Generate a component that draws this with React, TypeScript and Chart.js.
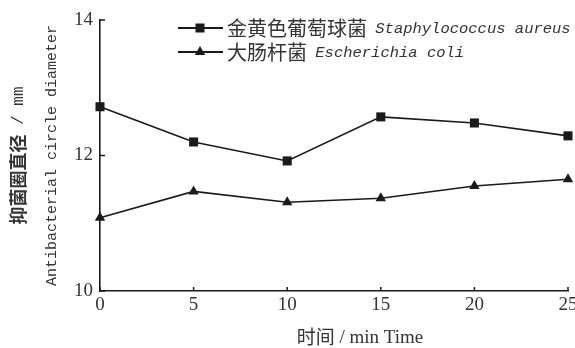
import React, { useEffect, useRef } from "react";
import { Chart, registerables } from "chart.js";

Chart.register(...registerables);

const times = [0, 5, 10, 15, 20, 25];
const staphValues = [12.72, 12.2, 11.92, 12.57, 12.48, 12.29];
const ecoliValues = [11.08, 11.47, 11.31, 11.37, 11.55, 11.65];
const seriesZh = ["金黄色葡萄球菌", "大肠杆菌"];
const seriesEn = ["Staphylococcus aureus", "Escherichia coli"];
const seriesMarkers = ["rect", "triangle"];
const yTicks = [10, 12, 14];
const xTicks = [0, 5, 10, 15, 20, 25];
const yTitleZh = "抑菌圈直径";
const yTitleUnit = " / mm";
const yTitleEn = "Antibacterial circle diameter";
const xTitleZh = "时间";
const xTitleRest = " / min Time";

const INK = "#1a1a1a";
const TEXT = "#333333";
const CJK = "'Noto Sans CJK SC'";
const MONO = "'Liberation Mono', 'DejaVu Sans Mono', monospace";
const SERIF = "'Liberation Serif', 'DejaVu Serif', serif";

function drawMarker(ctx: CanvasRenderingContext2D, style: string, x: number, y: number) {
  ctx.fillStyle = INK;
  ctx.beginPath();
  if (style === "rect") {
    ctx.rect(x - 4.5, y - 4.5, 9, 9);
  } else {
    const r = 6;
    ctx.moveTo(x, y - r);
    ctx.lineTo(x + r * 0.866, y + r * 0.5);
    ctx.lineTo(x - r * 0.866, y + r * 0.5);
    ctx.closePath();
  }
  ctx.fill();
}

const decorPlugin = {
  id: "decor",
  afterDraw(chart: any) {
    const ctx: CanvasRenderingContext2D = chart.ctx;
    const xs = chart.scales.x;
    const ys = chart.scales.y;
    ctx.save();
    // inward ticks
    ctx.strokeStyle = INK;
    ctx.lineWidth = 1.5;
    yTicks.forEach((v) => {
      const py = ys.getPixelForValue(v);
      ctx.beginPath();
      ctx.moveTo(xs.left, py);
      ctx.lineTo(xs.left + 5, py);
      ctx.stroke();
    });
    xTicks.forEach((v) => {
      const px = xs.getPixelForValue(v);
      ctx.beginPath();
      ctx.moveTo(px, ys.bottom);
      ctx.lineTo(px, ys.bottom - 4);
      ctx.stroke();
    });

    // legend
    const rowsY = [28, 52];
    chart.data.datasets.forEach((ds: any, i: number) => {
      const y = rowsY[i];
      ctx.strokeStyle = INK;
      ctx.lineWidth = 1.8;
      ctx.beginPath();
      ctx.moveTo(178, y);
      ctx.lineTo(223, y);
      ctx.stroke();
      drawMarker(ctx, seriesMarkers[i], 200, y);
      ctx.fillStyle = TEXT;
      ctx.textBaseline = "middle";
      ctx.textAlign = "left";
      ctx.font = `20px ${CJK}`;
      ctx.fillText(seriesZh[i], 227, y);
      const w = ctx.measureText(seriesZh[i]).width;
      ctx.font = `italic 15.5px ${MONO}`;
      ctx.fillText(" " + seriesEn[i], 227 + w - 1, y + 1);
    });

    // y titles
    const cy = (ys.top + ys.bottom) / 2;
    ctx.save();
    ctx.translate(18, cy);
    ctx.rotate(-Math.PI / 2);
    ctx.fillStyle = TEXT;
    ctx.textBaseline = "middle";
    ctx.font = `18px ${CJK}`;
    const wz = ctx.measureText(yTitleZh).width;
    ctx.font = `16px ${MONO}`;
    const wu = ctx.measureText(yTitleUnit).width;
    const sx = -(wz + wu) / 2;
    ctx.textAlign = "left";
    ctx.font = `bold 18px ${CJK}`;
    ctx.fillText(yTitleZh, sx, 0);
    ctx.font = `16px ${MONO}`;
    ctx.fillText(yTitleUnit, sx + wz, 1);
    ctx.restore();

    ctx.save();
    ctx.translate(52, cy);
    ctx.rotate(-Math.PI / 2);
    ctx.fillStyle = TEXT;
    ctx.textBaseline = "middle";
    ctx.textAlign = "center";
    ctx.font = `15px ${MONO}`;
    ctx.fillText(yTitleEn, 0, 0);
    ctx.restore();

    // x title
    ctx.fillStyle = TEXT;
    ctx.textBaseline = "middle";
    ctx.font = `19px ${CJK}`;
    const wx1 = ctx.measureText(xTitleZh).width;
    ctx.font = `19px ${SERIF}`;
    const wx2 = ctx.measureText(xTitleRest).width;
    const x0 = 360 - (wx1 + wx2) / 2;
    ctx.textAlign = "left";
    ctx.font = `19px ${CJK}`;
    ctx.fillText(xTitleZh, x0, 337);
    ctx.font = `19px ${SERIF}`;
    ctx.fillText(xTitleRest, x0 + wx1, 338);
    ctx.restore();
  },
};

export default function App() {
  const ref = useRef<HTMLCanvasElement | null>(null);
  useEffect(() => {
    document.body.style.margin = "0";
    const canvas = ref.current!;
    const chart = new Chart(canvas, {
      type: "line",
      data: {
        datasets: [
          {
            label: seriesZh[0] + " " + seriesEn[0],
            data: times.map((t, i) => ({ x: t, y: staphValues[i] })),
            borderColor: INK,
            backgroundColor: INK,
            borderWidth: 1.6,
            pointStyle: "rect",
            pointRadius: 6.4,
            pointBackgroundColor: INK,
            pointBorderWidth: 0,
            tension: 0,
            clip: false as any,
          },
          {
            label: seriesZh[1] + " " + seriesEn[1],
            data: times.map((t, i) => ({ x: t, y: ecoliValues[i] })),
            borderColor: INK,
            backgroundColor: INK,
            borderWidth: 1.6,
            pointStyle: "triangle",
            pointRadius: 6,
            pointBackgroundColor: INK,
            pointBorderWidth: 0,
            tension: 0,
            clip: false as any,
          },
        ],
      },
      options: {
        responsive: false,
        animation: false,
        layout: { padding: { top: 20, right: 7, left: 0, bottom: 0 } },
        plugins: { legend: { display: false }, tooltip: { enabled: false } },
        scales: {
          x: {
            type: "linear",
            min: 0,
            max: 25,
            afterBuildTicks: (s: any) => {
              s.ticks = xTicks.map((v) => ({ value: v }));
            },
            afterFit: (s: any) => {
              s.height = 57;
              s.paddingLeft = 0;
              s.paddingRight = 0;
            },
            grid: { display: true, drawOnChartArea: false, drawTicks: false },
            border: { display: true, color: INK, width: 1.6 },
            ticks: {
              color: TEXT,
              padding: 3,
              maxRotation: 0,
              autoSkip: false,
              font: { family: SERIF, size: 19 },
            },
          },
          y: {
            type: "linear",
            min: 10,
            max: 14,
            afterBuildTicks: (s: any) => {
              s.ticks = yTicks.map((v) => ({ value: v }));
            },
            afterFit: (s: any) => {
              s.width = 100;
              s.paddingTop = 0;
              s.paddingBottom = 0;
            },
            grid: { display: true, drawOnChartArea: false, drawTicks: false },
            border: { display: true, color: INK, width: 1.6 },
            ticks: {
              color: TEXT,
              padding: 7,
              font: { family: SERIF, size: 19 },
            },
          },
        },
      },
      plugins: [decorPlugin],
    });
    return () => chart.destroy();
  }, []);
  return <canvas ref={ref} width={575} height={348} style={{ display: "block" }} />;
}
